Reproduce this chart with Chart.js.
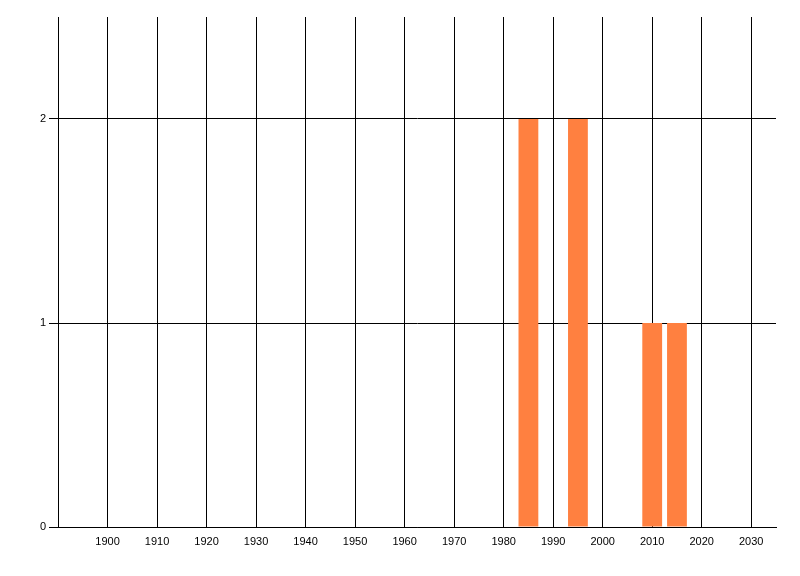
<!DOCTYPE html>
<html>
<head>
<meta charset="utf-8">
<script src="https://cdn.jsdelivr.net/npm/chart.js@4/dist/chart.umd.min.js"></script>
<style>
  html, body { margin: 0; padding: 0; background: #fff; }
  #wrap { width: 800px; height: 576px; }
</style>
</head>
<body>
<div id="wrap"><canvas id="grafica"></canvas></div>
<script>
const years = [1985, 1995, 2010, 2015];
const counts = [2, 2, 1, 1];
const xTickYears = [1900, 1910, 1920, 1930, 1940, 1950, 1960, 1970, 1980, 1990, 2000, 2010, 2020, 2030];
const yTickValues = [0, 1, 2];

const points = years.map((y, i) => ({ x: y, y: counts[i] }));

const dataset1 = {
    label: "Count",
    data: points,
    backgroundColor: 'rgb(255, 128, 64)',
    borderWidth: 0,
    barPercentage: 0.8,
    categoryPercentage: 1
};

const graph = document.querySelector("#grafica");

const config = {
    type: 'bar',
    data: { datasets: [dataset1] },
    options: {
        responsive: true,
        maintainAspectRatio: false,
        animation: false,
        layout: { padding: { left: 0, top: 17, right: 24, bottom: 0 } },
        plugins: { legend: { display: false }, tooltip: { enabled: false } },
        scales: {
            x: {
                type: 'linear',
                min: 1890,
                max: 2035,
                offset: false,
                afterBuildTicks: s => { s.ticks = xTickYears.map(v => ({ value: v })); },
                afterFit: s => { s.height = 49; },
                ticks: {
                    color: '#000',
                    font: { family: 'Liberation Sans', size: 11 },
                    padding: 8,
                    maxRotation: 0,
                    autoSkip: false,
                    callback: v => String(v)
                },
                grid: { color: '#000', lineWidth: 1, drawTicks: false, offset: false },
                border: { color: '#000', width: 1 }
            },
            y: {
                min: 0,
                max: 2.5,
                afterBuildTicks: s => { s.ticks = yTickValues.map(v => ({ value: v })); },
                afterFit: s => { s.width = 58; },
                ticks: {
                    color: '#000',
                    font: { family: 'Liberation Sans', size: 11 },
                    padding: 3
                },
                grid: { color: '#000', lineWidth: 1, drawTicks: true, tickLength: 9 },
                border: { color: '#000', width: 1 }
            }
        }
    }
};

new Chart(graph, config);
</script>
</body>
</html>
